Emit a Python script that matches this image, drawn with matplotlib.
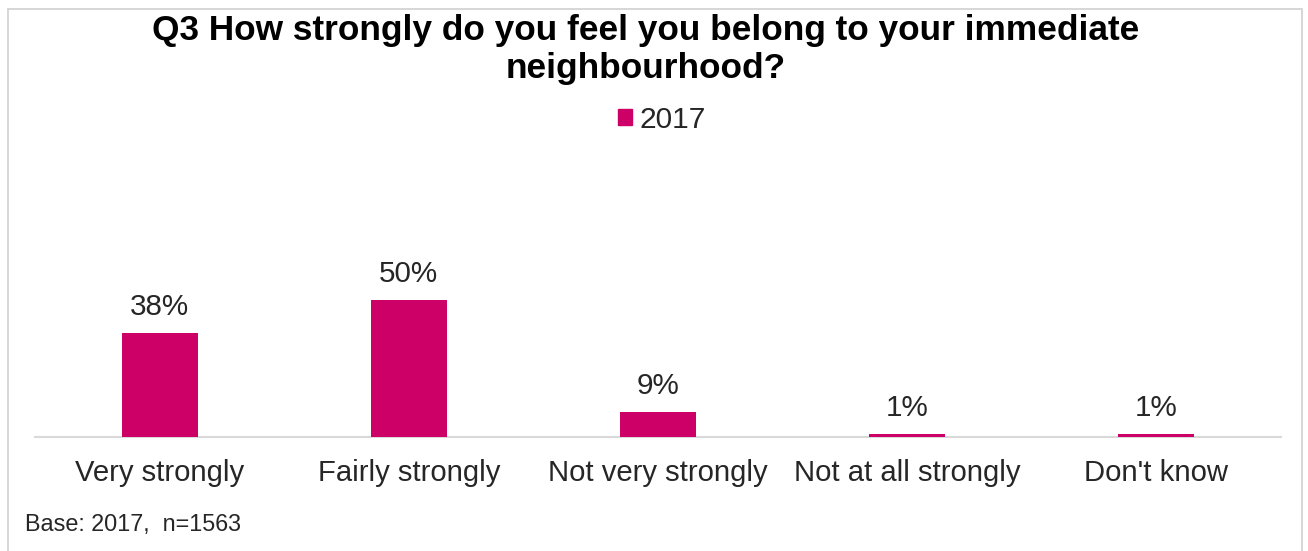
import matplotlib.pyplot as plt
from matplotlib.patches import Rectangle, Patch

plt.rcParams["font.family"] = ["Liberation Sans", "DejaVu Sans"]

# Datos
categorias = ["Very strongly", "Fairly strongly", "Not very strongly",
              "Not at all strongly", "Don't know"]
valores    = [38, 50, 9, 1, 1]
etiquetas  = ["38%", "50%", "9%", "1%", "1%"]
serie      = "2017"
titulo     = "Q3 How strongly do you feel you belong to your immediate\nneighbourhood?"
base_txt   = "Base: 2017,  n=1563"

color_barra = "#CC0066"
W, H = 1308, 551

fig = plt.figure(figsize=(W / 100, H / 100), dpi=100)

# marco gris del gráfico
fig.patches.append(Rectangle((8 / W, -0.1), (1302 - 8) / W, (H - 9) / H + 0.1,
                             transform=fig.transFigure, fill=False,
                             edgecolor="#D0D0D0", linewidth=1.2))

ax = fig.add_axes([35 / W, (H - 437) / H, 1246 / W, (437 - 150) / H])
x = range(len(categorias))
barras = ax.bar(x, valores, width=0.305, color=color_barra, zorder=3)
ax.set_xlim(-0.5, len(categorias) - 0.5)
ax.set_ylim(0, 105)

for b, lab in zip(barras, etiquetas):
    ax.annotate(lab, (b.get_x() + b.get_width() / 2, b.get_height()),
                xytext=(0, 9), textcoords="offset points",
                ha="center", va="bottom", fontsize=21.3, color="#262626")

ax.set_xticks(list(x))
ax.set_xticklabels(categorias, fontsize=21.1, color="#262626")
ax.tick_params(axis="x", length=0, pad=16)
ax.set_yticks([])
for lado in ["top", "right", "left"]:
    ax.spines[lado].set_visible(False)
ax.spines["bottom"].set_color("#D9D9D9")
ax.spines["bottom"].set_linewidth(1.5)
ax.patch.set_alpha(0)

fig.text(646 / W, 1 - 49.5 / H, titulo, ha="center", va="center",
         fontsize=25.4, fontweight="bold", color="black", linespacing=1.22)

fig.legend(handles=[Patch(color=color_barra, label=serie)],
           loc="center", bbox_to_anchor=(662 / W, 1 - 120 / H),
           frameon=False, fontsize=21.5, handlelength=0.45, handleheight=0.45,
           handletextpad=0.25, labelcolor="#262626")

fig.text(25 / W, 1 - 525 / H, base_txt, ha="left", va="center",
         fontsize=16.8, color="#262626")

plt.savefig("out.png", dpi=100)
plt.close()
